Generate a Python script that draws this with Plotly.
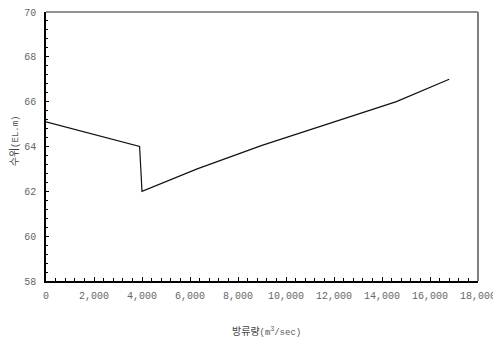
import plotly.graph_objects as go

# Discharge (m3/sec) vs water level (EL.m)
discharge = [0, 3900, 4000, 6300, 9000, 11700, 14600, 16800]
water_level = [65.1, 64.0, 62.0, 63.0, 64.05, 65.0, 66.0, 67.0]

x_ticks = list(range(0, 18001, 2000))
x_tick_text = ["{:,}".format(v) for v in x_ticks]
y_ticks = list(range(58, 71, 2))

mono = "Liberation Mono, Courier New, monospace"
kr = "Noto Sans CJK KR, sans-serif"

fig = go.Figure()
fig.add_trace(go.Scatter(
    x=discharge, y=water_level, mode="lines",
    line=dict(color="#111111", width=1.2),
    showlegend=False, hoverinfo="skip",
))

fig.update_layout(
    width=493, height=338,
    margin=dict(l=46, r=15, t=12, b=57, autoexpand=False),
    paper_bgcolor="white", plot_bgcolor="white",
    xaxis=dict(
        range=[0, 18000], tickvals=x_ticks, ticktext=x_tick_text,
        showgrid=False, zeroline=False, automargin=False,
        showline=True, linecolor="#000000", linewidth=1.5,
        ticks="inside", ticklen=4, tickwidth=1, tickcolor="#000000",
        minor=dict(dtick=400, ticks="inside", ticklen=3, tickcolor="#000000", showgrid=False),
        tickfont=dict(family=mono, size=10, color="#666666"),
        ticklabelstandoff=4, ticklabeloverflow="allow",
    ),
    yaxis=dict(
        range=[58, 70], tickvals=y_ticks,
        showgrid=False, zeroline=False, automargin=False,
        showline=True, linecolor="#000000", linewidth=1.5,
        ticks="inside", ticklen=3, tickwidth=1, tickcolor="#000000",
        minor=dict(dtick=0.4, ticks="inside", ticklen=2, tickcolor="#000000", showgrid=False),
        tickfont=dict(family=mono, size=10, color="#666666"),
        ticklabelstandoff=6, ticklabeloverflow="allow",
    ),
    shapes=[
        dict(type="line", xref="paper", yref="paper", x0=0, x1=1, y0=1, y1=1,
             line=dict(color="#222222", width=1)),
        dict(type="line", xref="paper", yref="paper", x0=1, x1=1, y0=0, y1=1,
             line=dict(color="#808080", width=2)),
    ],
    annotations=[
        dict(
            text="방류량<span style=\"font-family:Liberation Mono;font-size:9px;color:#555555\">(m<sup>3</sup>/sec)</span>",
            xref="paper", yref="paper", x=0.51, y=-0.185, yanchor="middle", xanchor="center",
            showarrow=False, font=dict(family=kr, size=10, color="#444444"),
        ),
        dict(
            text="수위<span style=\"font-family:Liberation Mono;font-size:9px;color:#555555\">(EL.m)</span>",
            xref="paper", yref="paper", x=-0.076, y=0.52, xanchor="center", yanchor="middle",
            textangle=-90, showarrow=False, font=dict(family=kr, size=10, color="#444444"),
        ),
    ],
)

fig.write_html("out.html")
